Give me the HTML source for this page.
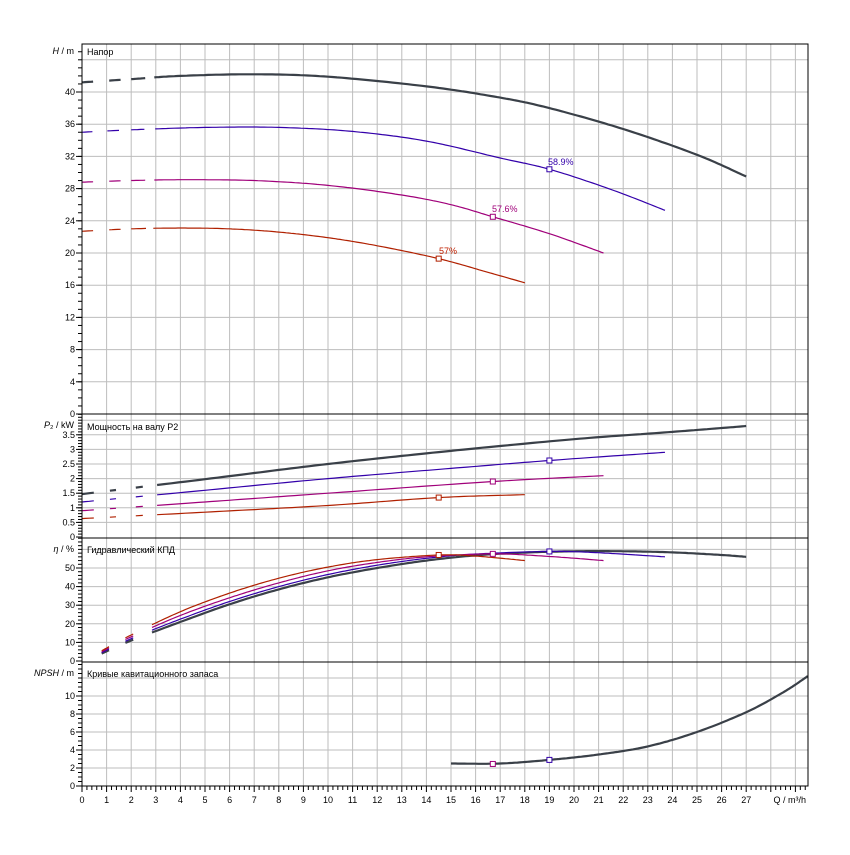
<!DOCTYPE html>
<html><head><meta charset="utf-8"><style>
body{margin:0;background:#fff}
svg text{font-family:"Liberation Sans",sans-serif;font-size:9px;fill:#000}
</style></head><body>
<svg id="s" width="850" height="850" xmlns="http://www.w3.org/2000/svg">
<rect width="850" height="850" fill="#fff"/>
<g id="grid"></g>
<g id="curves"></g>
<g stroke="#000" stroke-width="1" fill="none">
<rect x="82" y="44" width="726" height="742"/>
<line x1="82" y1="414" x2="808" y2="414"/>
<line x1="82" y1="538" x2="808" y2="538"/>
<line x1="82" y1="662" x2="808" y2="662"/>
</g>
<g id="ticks" stroke="#000" stroke-width="1"></g>
<text x="87" y="55">Напор</text>
<text x="87" y="430">Мощность на валу P2</text>
<text x="87" y="553">Гидравлический КПД</text>
<text x="87" y="677">Кривые кавитационного запаса</text>
<text x="74" y="54" text-anchor="end"><tspan font-style="italic">H</tspan> / m</text>
<text x="74" y="428" text-anchor="end"><tspan font-style="italic">P</tspan>₂ / kW</text>
<text x="74" y="552" text-anchor="end"><tspan font-style="italic">η</tspan> / %</text>
<text x="74" y="676" text-anchor="end"><tspan font-style="italic">NPSH</tspan> / m</text>
<text x="806" y="803" text-anchor="end">Q / m³/h</text>
<text x="548" y="165" style="fill:#3300aa">58.9%</text>
<text x="492" y="212" style="fill:#a0007a">57.6%</text>
<text x="439" y="254" style="fill:#c02000">57%</text>
<g id="labels" text-anchor="end"></g>
<g id="xl" text-anchor="middle"></g>
</svg>
<script>
const NS="http://www.w3.org/2000/svg";
function el(p,t,a,txt){const e=document.createElementNS(NS,t);for(const k in a)e.setAttribute(k,a[k]);if(txt!==undefined)e.textContent=txt;document.getElementById(p).appendChild(e);return e;}
const X=q=>82+24.6*q;
const H=v=>414-8.05*v, P=v=>537-29.2*v, E=v=>661-1.86*v, N=v=>786-9*v;
for(let i=1;i<=29;i++)el("grid","line",{x1:X(i),x2:X(i),y1:44,y2:786,stroke:"#bdbdbd"});
function hg(f,vals){vals.forEach(v=>el("grid","line",{x1:82,x2:808,y1:f(v),y2:f(v),stroke:"#bdbdbd"}));}
hg(H,[4,8,12,16,20,24,28,32,36,40,44]);hg(P,[0.5,1,1.5,2,2.5,3,3.5,4]);hg(E,[10,20,30,40,50,60]);hg(N,[2,4,6,8,10,12]);
function yl(f,vals,fmt,minor,lo,hi){vals.forEach(v=>{el("labels","text",{x:75,y:f(v)+3},fmt(v));el("ticks","line",{x1:76,x2:82,y1:f(v),y2:f(v)});});
 for(let v=lo;v<=hi+1e-9;v+=minor){const y=f(v);if(y>=44&&y<=786)el("ticks","line",{x1:78,x2:82,y1:y,y2:y});}}
yl(H,[0,4,8,12,16,20,24,28,32,36,40],v=>v,1,0,45);
yl(P,[0,0.5,1,1.5,2,2.5,3,3.5],v=>v,0.1,0,4.2);
yl(E,[0,10,20,30,40,50],v=>v,2,0,66);
yl(N,[0,2,4,6,8,10],v=>v,0.5,0,13.5);
for(let i=0;i<=27;i++)el("xl","text",{x:X(i),y:803},i);
for(let q=0;q<=29.5;q+=0.2)el("ticks","line",{x1:X(q),x2:X(q),y1:786,y2:Math.abs(q-Math.round(q))<0.01?792:790});
function cr(pts){const o=[];for(let i=0;i<pts.length-1;i++){const p0=pts[Math.max(0,i-1)],p1=pts[i],p2=pts[i+1],p3=pts[Math.min(pts.length-1,i+2)];
 for(let t=0;t<1;t+=0.05){const t2=t*t,t3=t2*t;const f=(a,b,c,d)=>0.5*(2*b+(-a+c)*t+(2*a-5*b+4*c-d)*t2+(-a+3*b-3*c+d)*t3);o.push([f(p0[0],p1[0],p2[0],p3[0]),f(p0[1],p1[1],p2[1],p3[1])]);}}
 o.push(pts[pts.length-1]);return o;}
function curve(f,pts,col,w,ranges){const all=cr(pts);
 const rs=ranges||[[-1,99]];
 rs.forEach(r=>{const seg=all.filter(p=>p[0]>=r[0]&&p[0]<=r[1]);if(seg.length<2)return;
  el("curves","polyline",{points:seg.map(p=>X(p[0]).toFixed(1)+","+f(p[1]).toFixed(1)).join(" "),fill:"none",stroke:col,"stroke-width":w});});}
function sq(f,q,v,col){el("curves","rect",{x:X(q)-2.5,y:f(v)-2.5,width:5,height:5,fill:"#fff",stroke:col,"stroke-width":1});}
const D="#3a4048",B="#3300aa",M="#a0007a",R="#b02000";
const dashA=[[0,0.5],[1,1.6],[2,2.6],[2.9,99]];
const dashE=[[0.8,1.15],[1.75,2.1],[2.8,99]];
curve(H,[[0,41.2],[2,41.6],[4,42],[7,42.2],[10,41.9],[14,40.7],[17,39.3],[19,38],[22,35.4],[25,32.2],[27,29.5]],D,2.2,dashA);
curve(H,[[0,35],[2,35.3],[5,35.6],[8,35.6],[11,35.1],[14,33.9],[17,31.8],[19,30.4],[21.5,27.9],[23.7,25.3]],B,1.2,dashA);
curve(H,[[0,28.8],[2,29],[4,29.1],[7,29],[10,28.4],[13,27.2],[15,26],[16.7,24.5],[19,22.4],[21.2,20]],M,1.2,dashA);
curve(H,[[0,22.7],[2,23],[4,23.1],[6,23],[8,22.6],[10,21.9],[12,20.9],[14.5,19.3],[16.5,17.6],[18,16.3]],R,1.2,dashA);
sq(H,19,30.4,B);sq(H,16.7,24.5,M);sq(H,14.5,19.3,R);
curve(P,[[0,1.47],[5,1.98],[10,2.5],[15,2.95],[20,3.35],[24,3.6],[27,3.8]],D,2.2,dashA);
curve(P,[[0,1.2],[5,1.6],[10,2],[15,2.35],[19,2.62],[23.7,2.9]],B,1.2,dashA);
curve(P,[[0,0.9],[5,1.2],[10,1.5],[16.7,1.9],[21.2,2.1]],M,1.2,dashA);
curve(P,[[0,0.63],[5,0.85],[10,1.08],[14.5,1.35],[18,1.45]],R,1.2,dashA);
sq(P,19,2.62,B);sq(P,16.7,1.9,M);sq(P,14.5,1.35,R);
curve(E,[[0.8,4],[2,11],[4,21],[6,30.5],[8,38.5],[10,45],[12,50],[14,54],[16,56.8],[18,58.3],[20,59],[22,59],[24,58.4],[26,57],[27,56]],D,2.2,dashE);
curve(E,[[0.8,4.5],[2,12],[4,22.5],[6,32],[8,40],[10,46.5],[12,51.5],[14,55.2],[16,57.5],[19,58.9],[21,58.2],[23.7,56]],B,1.2,dashE);
curve(E,[[0.8,5],[2,13],[4,24.5],[6,34],[8,42],[10,48.5],[12,53],[14,56],[16.7,57.6],[19,56.2],[21.2,54]],M,1.2,dashE);
curve(E,[[0.8,5.5],[2,14],[4,26.5],[6,36.5],[8,44.5],[10,50.5],[12,54.5],[14.5,57],[16,56.4],[18,54]],R,1.2,dashE);
sq(E,19,58.9,B);sq(E,16.7,57.6,M);sq(E,14.5,57,R);
curve(N,[[15,2.5],[17,2.5],[19,2.9],[21,3.5],[23,4.4],[25,6],[27,8.2],[28.5,10.4],[29.5,12.2]],D,2.2);
sq(N,16.7,2.45,M);sq(N,19,2.9,B);
</script>
</body></html>
